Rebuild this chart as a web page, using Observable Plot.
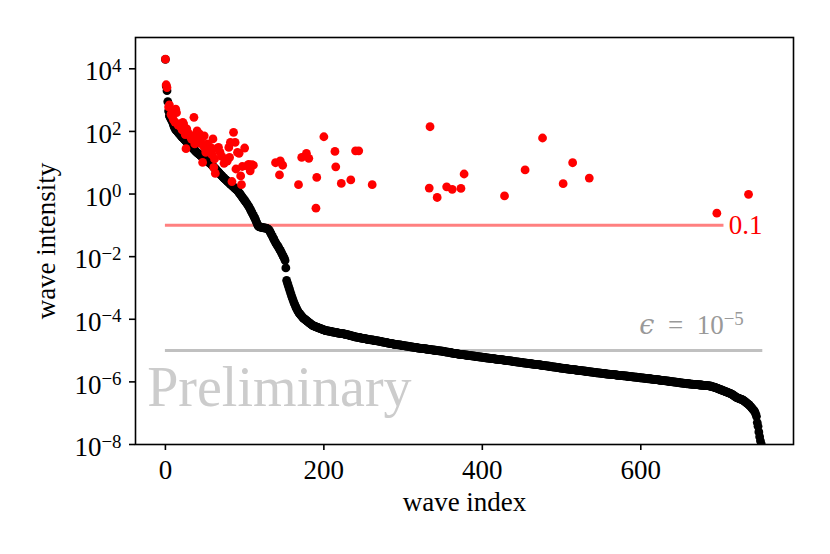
<!DOCTYPE html>
<html>
<head>
<meta charset="utf-8">
<script src="https://cdn.jsdelivr.net/npm/d3@7"></script>
<script src="https://cdn.jsdelivr.net/npm/@observablehq/plot@0.6"></script>
<style>
  html, body { margin: 0; padding: 0; background: #fff; }
</style>
</head>
<body>
<div id="chart"></div>
<script>
// log10 of the sorted wave intensity (black), one value per wave index 0..754
const blackLog10 = [
4.30,3.45,3.30,2.95,2.65,2.50,2.45,2.40,2.35,2.30,
2.22,2.15,2.10,2.05,2.03,2.00,1.97,1.94,1.91,1.88,
1.85,1.82,1.80,1.77,1.74,1.72,1.69,1.67,1.64,1.62,
1.59,1.56,1.54,1.51,1.48,1.45,1.43,1.40,1.37,1.35,
1.32,1.30,1.28,1.26,1.24,1.22,1.19,1.17,1.15,1.13,
1.11,1.09,1.07,1.05,1.03,1.01,0.99,0.97,0.94,0.92,
0.89,0.86,0.83,0.81,0.78,0.75,0.72,0.70,0.67,0.64,
0.61,0.59,0.56,0.53,0.51,0.48,0.46,0.44,0.41,0.39,
0.37,0.34,0.32,0.30,0.27,0.25,0.23,0.20,0.18,0.16,
0.13,0.11,0.08,0.04,0.01,-0.03,-0.06,-0.10,-0.13,-0.17,
-0.20,-0.24,-0.27,-0.31,-0.35,-0.39,-0.43,-0.48,-0.53,-0.58,
-0.63,-0.68,-0.73,-0.78,-0.84,-0.90,-0.96,-1.02,-1.04,-1.05,
-1.06,-1.06,-1.07,-1.07,-1.08,-1.08,-1.09,-1.09,-1.10,-1.11,
-1.13,-1.16,-1.20,-1.25,-1.30,-1.35,-1.40,-1.45,-1.50,-1.55,
-1.59,-1.63,-1.67,-1.71,-1.76,-1.80,-1.85,-1.90,-1.95,-2.00,
-2.05,-2.12,-2.36,-2.76,-2.84,-2.92,-3.00,-3.08,-3.16,-3.24,
-3.31,-3.38,-3.45,-3.51,-3.57,-3.63,-3.68,-3.73,-3.77,-3.81,
-3.84,-3.87,-3.90,-3.93,-3.96,-3.98,-4.00,-4.02,-4.04,-4.06,
-4.08,-4.10,-4.12,-4.14,-4.16,-4.18,-4.20,-4.21,-4.22,-4.23,
-4.24,-4.25,-4.26,-4.27,-4.28,-4.29,-4.30,-4.31,-4.32,-4.33,
-4.34,-4.35,-4.36,-4.36,-4.37,-4.37,-4.38,-4.38,-4.39,-4.39,
-4.40,-4.40,-4.41,-4.41,-4.42,-4.42,-4.43,-4.43,-4.44,-4.44,
-4.45,-4.45,-4.46,-4.46,-4.46,-4.47,-4.47,-4.48,-4.48,-4.49,
-4.50,-4.50,-4.51,-4.52,-4.52,-4.53,-4.54,-4.54,-4.55,-4.56,
-4.56,-4.57,-4.57,-4.58,-4.58,-4.59,-4.59,-4.60,-4.60,-4.61,
-4.61,-4.62,-4.62,-4.63,-4.63,-4.64,-4.64,-4.65,-4.65,-4.66,
-4.66,-4.66,-4.67,-4.67,-4.68,-4.68,-4.68,-4.69,-4.69,-4.70,
-4.70,-4.71,-4.71,-4.72,-4.72,-4.73,-4.73,-4.74,-4.74,-4.75,
-4.75,-4.76,-4.76,-4.77,-4.77,-4.78,-4.78,-4.79,-4.79,-4.80,
-4.80,-4.80,-4.81,-4.81,-4.82,-4.82,-4.82,-4.83,-4.83,-4.84,
-4.84,-4.84,-4.85,-4.85,-4.86,-4.86,-4.86,-4.87,-4.87,-4.88,
-4.88,-4.88,-4.89,-4.89,-4.90,-4.90,-4.90,-4.91,-4.91,-4.92,
-4.92,-4.92,-4.93,-4.93,-4.93,-4.94,-4.94,-4.94,-4.95,-4.95,
-4.95,-4.96,-4.96,-4.96,-4.97,-4.97,-4.98,-4.98,-4.98,-4.99,
-4.99,-4.99,-5.00,-5.00,-5.00,-5.01,-5.01,-5.01,-5.02,-5.02,
-5.02,-5.03,-5.03,-5.04,-5.04,-5.05,-5.05,-5.05,-5.06,-5.06,
-5.07,-5.07,-5.08,-5.08,-5.09,-5.09,-5.10,-5.10,-5.10,-5.11,
-5.11,-5.12,-5.12,-5.12,-5.13,-5.13,-5.13,-5.14,-5.14,-5.14,
-5.15,-5.15,-5.15,-5.16,-5.16,-5.16,-5.17,-5.17,-5.17,-5.18,
-5.18,-5.18,-5.19,-5.19,-5.19,-5.20,-5.20,-5.20,-5.21,-5.21,
-5.21,-5.22,-5.22,-5.22,-5.23,-5.23,-5.23,-5.24,-5.24,-5.24,
-5.25,-5.25,-5.25,-5.26,-5.26,-5.26,-5.27,-5.27,-5.27,-5.28,
-5.28,-5.28,-5.29,-5.29,-5.29,-5.30,-5.30,-5.30,-5.31,-5.31,
-5.31,-5.32,-5.32,-5.32,-5.33,-5.33,-5.33,-5.34,-5.34,-5.35,
-5.35,-5.35,-5.36,-5.36,-5.36,-5.37,-5.37,-5.37,-5.38,-5.38,
-5.38,-5.39,-5.39,-5.39,-5.40,-5.40,-5.40,-5.41,-5.41,-5.41,
-5.42,-5.42,-5.42,-5.43,-5.43,-5.43,-5.44,-5.44,-5.44,-5.45,
-5.45,-5.45,-5.46,-5.46,-5.46,-5.47,-5.47,-5.48,-5.48,-5.48,
-5.49,-5.49,-5.49,-5.50,-5.50,-5.50,-5.51,-5.51,-5.52,-5.52,
-5.52,-5.53,-5.53,-5.53,-5.54,-5.54,-5.54,-5.55,-5.55,-5.56,
-5.56,-5.56,-5.57,-5.57,-5.57,-5.58,-5.58,-5.58,-5.59,-5.59,
-5.59,-5.60,-5.60,-5.60,-5.61,-5.61,-5.61,-5.62,-5.62,-5.62,
-5.63,-5.63,-5.63,-5.64,-5.64,-5.64,-5.65,-5.65,-5.65,-5.66,
-5.66,-5.66,-5.67,-5.67,-5.67,-5.68,-5.68,-5.68,-5.69,-5.69,
-5.69,-5.70,-5.70,-5.70,-5.71,-5.71,-5.71,-5.71,-5.72,-5.72,
-5.72,-5.73,-5.73,-5.73,-5.74,-5.74,-5.74,-5.75,-5.75,-5.75,
-5.75,-5.76,-5.76,-5.76,-5.77,-5.77,-5.77,-5.77,-5.78,-5.78,
-5.78,-5.79,-5.79,-5.79,-5.79,-5.80,-5.80,-5.80,-5.81,-5.81,
-5.81,-5.81,-5.82,-5.82,-5.82,-5.83,-5.83,-5.83,-5.83,-5.84,
-5.84,-5.84,-5.85,-5.85,-5.85,-5.85,-5.86,-5.86,-5.86,-5.87,
-5.87,-5.87,-5.87,-5.88,-5.88,-5.88,-5.89,-5.89,-5.89,-5.90,
-5.90,-5.90,-5.90,-5.91,-5.91,-5.91,-5.92,-5.92,-5.92,-5.93,
-5.93,-5.93,-5.94,-5.94,-5.94,-5.95,-5.95,-5.95,-5.96,-5.96,
-5.96,-5.97,-5.97,-5.97,-5.98,-5.98,-5.98,-5.99,-5.99,-5.99,
-6.00,-6.00,-6.00,-6.01,-6.01,-6.01,-6.02,-6.02,-6.02,-6.03,
-6.03,-6.03,-6.04,-6.04,-6.04,-6.05,-6.05,-6.05,-6.06,-6.06,
-6.06,-6.06,-6.07,-6.07,-6.07,-6.07,-6.08,-6.08,-6.08,-6.08,
-6.09,-6.09,-6.09,-6.09,-6.10,-6.10,-6.10,-6.10,-6.11,-6.11,
-6.11,-6.11,-6.12,-6.12,-6.12,-6.12,-6.13,-6.13,-6.14,-6.14,
-6.15,-6.16,-6.17,-6.17,-6.18,-6.19,-6.20,-6.21,-6.22,-6.23,
-6.24,-6.25,-6.26,-6.27,-6.28,-6.29,-6.30,-6.31,-6.32,-6.33,
-6.34,-6.35,-6.36,-6.37,-6.38,-6.40,-6.41,-6.43,-6.45,-6.47,
-6.48,-6.50,-6.51,-6.52,-6.53,-6.54,-6.55,-6.56,-6.57,-6.58,
-6.60,-6.62,-6.64,-6.66,-6.68,-6.70,-6.72,-6.74,-6.77,-6.80,
-6.83,-6.86,-6.89,-6.92,-6.96,-7.02,-7.10,-7.30,-7.42,-7.60,
-7.75,-7.88,-7.98,-8.10,-8.30
];

// red points: wave index and log10 intensity
const redIndex = [0,1,2,4,5,7,8,10,12,13,14,16,17,19,21,22,23,25,26,27,29,31,33,34,36,37,38,40,42,43,44,46,47,48,49,50,51,53,55,57,59,60,61,62,63,65,67,69,71,74,76,78,80,81,82,84,86,88,89,91,93,95,96,97,100,103,105,107,109,111,139,144,145,148,168,172,178,181,190,191,200,214,215,222,234,240,244,261,333,334,343,355,362,373,377,428,454,476,502,514,535,696,736];
const redLog10 = [4.31,3.49,3.40,2.78,2.85,2.55,2.50,2.38,2.30,2.71,2.60,2.20,2.24,2.15,2.05,2.29,2.24,1.90,1.45,2.08,1.95,1.85,1.75,1.81,2.45,1.60,1.90,2.02,1.75,1.92,1.62,1.80,1.01,1.54,1.86,1.45,1.33,1.60,1.40,1.49,1.25,1.76,0.85,1.12,0.66,1.45,1.49,1.33,1.20,0.98,1.12,1.05,1.49,1.17,1.65,0.40,1.97,1.65,0.80,1.33,1.30,0.58,0.30,0.88,1.47,0.90,0.95,0.74,0.94,0.92,1.00,0.61,1.06,0.92,0.30,1.17,1.30,1.14,-0.45,0.53,1.83,1.36,0.87,0.34,0.45,1.38,1.38,0.30,0.19,2.15,-0.11,0.23,0.15,0.18,0.64,-0.06,0.77,1.79,0.33,1.00,0.51,-0.61,-0.01];

const xTicks = [0, 200, 400, 600];
const yTickExponents = [-8, -6, -4, -2, 0, 2, 4];
const thresholdValue = 0.1;      // red line
const epsilonValue = 1e-5;       // gray line
const thresholdEnd = 705;
const epsilonEnd = 754;

const black = blackLog10.map((v, i) => ({index: i, intensity: Math.pow(10, v)}));
const red = redIndex.map((x, i) => ({index: x, intensity: Math.pow(10, redLog10[i])}));
const yTicks = yTickExponents.map(e => Math.pow(10, e));

const FONT = "'Liberation Serif', 'DejaVu Serif', serif";
const FS = 27;

const chart = Plot.plot({
  width: 830,
  height: 554,
  marginLeft: 135,
  marginRight: 37,
  marginTop: 37,
  marginBottom: 110,
  style: {fontFamily: FONT, fontSize: FS + "px", background: "#fff", color: "#000"},
  x: {domain: [-37.75, 792.75]},
  y: {type: "log", domain: [1e-8, 1e5]},
  marks: [
    Plot.ruleY([thresholdValue], {x1: 0, x2: thresholdEnd, stroke: "#ff8080", strokeWidth: 3}),
    Plot.ruleY([epsilonValue], {x1: 0, x2: epsilonEnd, stroke: "#c0c0c0", strokeWidth: 3}),
    Plot.text(["Preliminary"], {x: -23, y: 1.7e-7, text: d => d, textAnchor: "start", lineAnchor: "bottom", fill: "#cccccc", fontSize: 56}),
    Plot.dot(black, {x: "index", y: "intensity", r: 4.4, fill: "black", clip: true}),
    Plot.dot(red, {x: "index", y: "intensity", r: 4.4, fill: "red", clip: true}),
    Plot.text([thresholdValue], {x: 711, y: d => d, text: d => "0.1", textAnchor: "start", lineAnchor: "middle", fill: "red", fontSize: FS}),
    Plot.text([epsilonValue], {x: 730, y: d => d, text: d => "ϵ = 10^−5", textAnchor: "end", lineAnchor: "bottom", dy: -17, fill: "#999999", fontSize: FS}),
    Plot.frame({stroke: "black", strokeWidth: 1.6}),
    Plot.axisX({ticks: xTicks, tickSize: 6, tickPadding: 9, label: null, strokeWidth: 1.6}),
    Plot.axisY({ticks: yTicks, tickSize: 6, tickPadding: 8, label: null, strokeWidth: 1.6,
      tickFormat: d => "10^" + String(Math.round(Math.log10(d))).replace("-", "−")}),
    Plot.text(["wave index"], {frameAnchor: "bottom", dy: 66, lineAnchor: "bottom", textAnchor: "middle", text: d => d, fontSize: FS}),
    Plot.text(["wave intensity"], {frameAnchor: "left", dx: -89, rotate: -90, lineAnchor: "middle", textAnchor: "middle", text: d => d, fontSize: FS})
  ]
});

// render exponents as superscript tspans
chart.querySelectorAll("text").forEach(t => {
  const s = t.textContent;
  if (!s.includes("^")) return;
  const [base, exp] = s.split("^");
  const isY = t.closest('[aria-label="y-axis tick label"]') != null;
  t.textContent = "";
  const ns = "http://www.w3.org/2000/svg";
  if (base.startsWith("ϵ")) {
    const e = document.createElementNS(ns, "tspan");
    e.setAttribute("font-style", "italic");
    e.setAttribute("font-family", "'DejaVu Serif', serif");
    e.textContent = "ϵ";
    t.appendChild(e);
    const r = document.createElementNS(ns, "tspan");
    r.textContent = base.slice(1).replace("=", "\u00a0=\u00a0");
    t.appendChild(r);
  } else {
    const b = document.createElementNS(ns, "tspan");
    if (isY) b.setAttribute("dy", "3");
    b.textContent = base;
    t.appendChild(b);
  }
  const sup = document.createElementNS(ns, "tspan");
  sup.setAttribute("dy", "-0.45em");
  sup.setAttribute("font-size", "0.7em");
  sup.textContent = exp;
  t.appendChild(sup);
});

document.getElementById("chart").appendChild(chart);
</script>
</body>
</html>
